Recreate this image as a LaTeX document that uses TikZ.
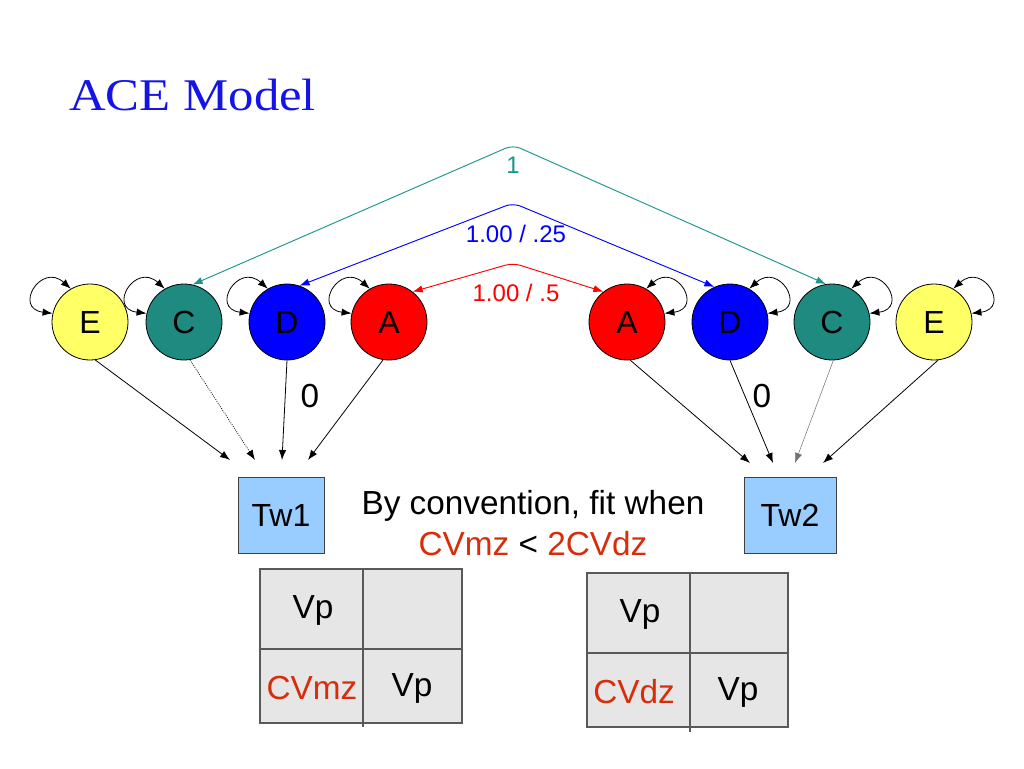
\documentclass[tikz,border=0pt]{standalone}
\usepackage{fontspec}
\setmainfont{Liberation Sans}
\newfontfamily\titlefont[FakeStretch=1.12]{Liberation Serif}
\usetikzlibrary{arrows.meta}
\definecolor{tealc}{RGB}{30,138,128}
\definecolor{tealline}{RGB}{25,150,140}
\definecolor{yel}{RGB}{255,255,102}
\definecolor{twc}{RGB}{153,204,255}
\definecolor{cellc}{RGB}{230,230,230}
\definecolor{rtext}{RGB}{215,45,10}
\definecolor{ttl}{RGB}{20,20,230}
\begin{document}
\begin{tikzpicture}[x=0.75pt,y=0.75pt,
  lat/.style={circle,draw=black,line width=0.6pt,minimum size=57pt,inner sep=0pt,font=\fontsize{24}{24}\selectfont},
  twbox/.style={rectangle,draw=black!75,line width=0.6pt,fill=twc,minimum height=57pt,inner sep=0pt,font=\fontsize{24}{24}\selectfont},
  tip/.style={-{Latex[length=7.5pt,width=5.5pt]}},
  dtip/.style={{Latex[length=7.5pt,width=5.5pt]}-{Latex[length=7.5pt,width=5.5pt]}},
  conn/.style={tip,line width=0.6pt,black},
  selfloop/.style={dtip,line width=0.6pt,black},
  arc/.style={dtip,line width=0.7pt,rounded corners=6pt},
  lbl/.style={font=\fontsize{18}{18}\selectfont,inner sep=0pt},
  big/.style={font=\fontsize{25}{25}\selectfont,inner sep=0pt},
  cellbox/.style={draw=black!65,line width=0.8pt,fill=cellc}]
\useasboundingbox (0,0) rectangle (1024,-768);

% title
\node[anchor=base west,inner sep=0pt,text=ttl,font=\titlefont\fontsize{34}{34}\selectfont] (title) at (69,-110) {ACE Model};

% latent variables
\node[lat,fill=yel]   (E1) at (90,-322) {E};
\node[lat,fill=tealc] (C1) at (184,-322) {C};
\node[lat,fill=blue]  (D1) at (287,-322) {D};
\node[lat,fill=red]   (A1) at (389,-322) {A};
\node[lat,fill=red]   (A2) at (627,-322) {A};
\node[lat,fill=blue]  (D2) at (730,-322) {D};
\node[lat,fill=tealc] (C2) at (832,-322) {C};
\node[lat,fill=yel]   (E2) at (934,-322) {E};

% self loops
\foreach \n in {E1,C1,D1,A1}{
  \draw[selfloop] (\n.167) .. controls +(173:40) and +(138:40) .. (\n.120);
}
\foreach \n in {A2,D2,C2,E2}{
  \draw[selfloop] (\n.13) .. controls +(7:40) and +(42:40) .. (\n.60);
}

% covariance arcs
\coordinate (ta) at (513,-145);
\coordinate (ba) at (513,-203);
\coordinate (ra) at (513,-263);
\draw[arc,tealline] (C1.77) -- (ta) -- (C2.99);
\draw[arc,blue] (D1.71) -- (ba) -- (D2.114);
\draw[arc,red] (A1.52) -- (ra) -- (A2.128);
\node[lbl,text=tealline] (l1) at (513,-165) {1};
\node[lbl,text=blue] (l2) at (516,-234) {1.00 / .25};
\node[lbl,text=red] (l3) at (516,-293) {1.00 / .5};

% observed
\node[twbox,minimum width=64.5pt] (T1) at (281,-515) {Tw1};
\node[twbox,minimum width=69pt] (T2) at (790,-515) {Tw2};

\coordinate (p1) at (230,-460);
\coordinate (p2) at (255,-460);
\coordinate (p3) at (282,-460);
\coordinate (p4) at (308,-460);
\coordinate (q1) at (750,-463);
\coordinate (q2) at (773,-463);
\coordinate (q3) at (795,-463);
\coordinate (q4) at (823,-463);

\draw[conn] (E1.-82) -- (p1);
\draw[conn,densely dotted] (C1.-81) -- (p2);
\draw[conn] (D1.-90) -- (p3);
\draw[conn] (A1.-99) -- (p4);
\draw[conn] (A2.-85) -- (q1);
\draw[conn] (D2.-90) -- (q2);
\draw[conn,black!55,line width=0.4pt] (C2.-88) -- (q3);
\draw[conn] (E2.-84) -- (q4);

\node[big] (z1) at (310,-396) {0};
\node[big] (z2) at (762,-396) {0};

% convention text
\node[big,anchor=base] (conv1) at (533,-514) {By convention, fit when};
\node[big,anchor=base] (conv2) at (533,-555) {\textcolor{rtext}{CVmz} < \textcolor{rtext}{2CVdz}};

% matrices
\draw[cellbox] (260,-569) rectangle (462,-723);
\draw[cellbox] (260,-649) -- (462,-649);
\draw[cellbox] (363,-569) -- (363,-727);
\node[big] (m1a) at (313,-610) {Vp};
\node[big,text=rtext] (m1b) at (312,-688) {CVmz};
\node[big] (m1c) at (412,-688) {Vp};

\draw[cellbox] (587,-573) rectangle (788,-727);
\draw[cellbox] (587,-653) -- (788,-653);
\draw[cellbox] (690,-573) -- (690,-732);
\node[big] (m2a) at (640,-614) {Vp};
\node[big,text=rtext] (m2b) at (634,-692) {CVdz};
\node[big] (m2c) at (738,-692) {Vp};
\end{tikzpicture}
\end{document}
